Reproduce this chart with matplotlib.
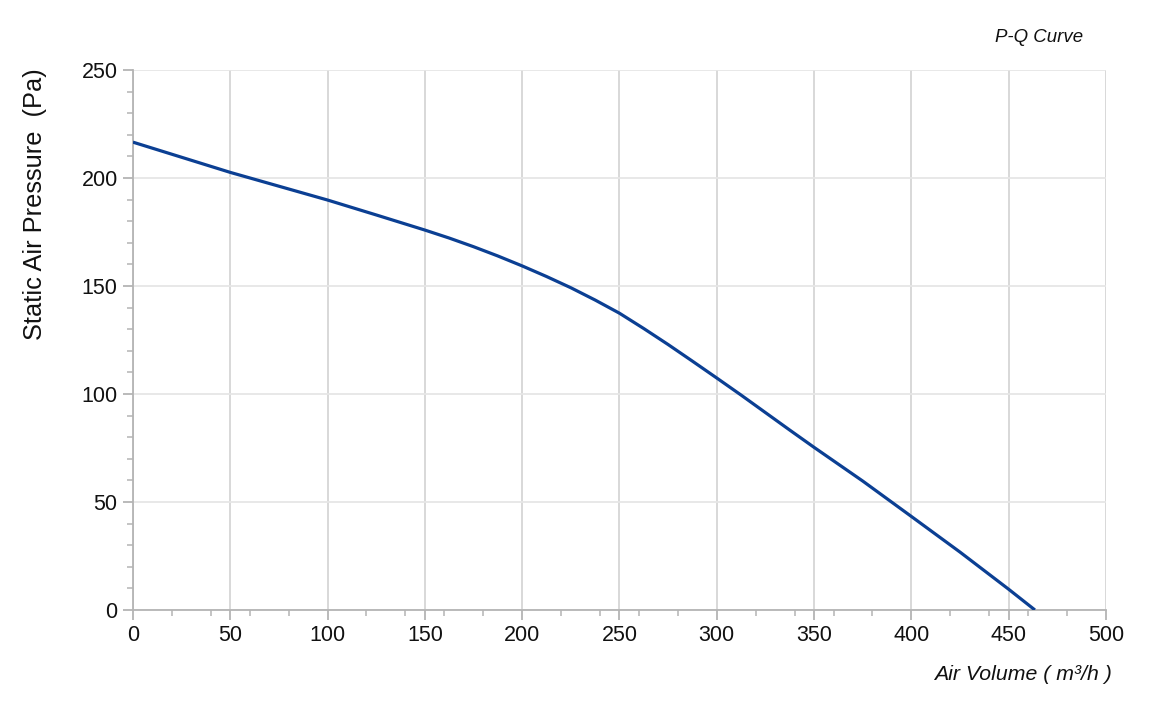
import numpy as np
import matplotlib
matplotlib.use("Agg")
import matplotlib.pyplot as plt
from matplotlib.ticker import MultipleLocator

# P-Q curve
air_volume = [0, 25, 50, 75, 100, 125, 150, 162.5, 175, 187.5, 200, 212.5,
              225, 237.5, 250, 262.5, 275, 287.5, 300, 312.5, 325, 337.5,
              350, 375, 400, 425, 450, 463.5]
pressure = [216.6, 209.6, 202.6, 196.2, 189.8, 182.9, 175.9, 172.2, 168.2,
            163.9, 159.3, 154.4, 149.2, 143.5, 137.4, 130.3, 122.9, 115.2,
            107.4, 99.5, 91.4, 83.3, 75.3, 59.7, 43.3, 26.8, 9.6, 0.0]

x_ticks = [0, 50, 100, 150, 200, 250, 300, 350, 400, 450, 500]
y_ticks = [0, 50, 100, 150, 200, 250]

plt.rcParams['font.family'] = ['Liberation Sans', 'DejaVu Sans']

fig = plt.figure(figsize=(11.56, 7.05), dpi=100)
ax = fig.add_axes([0.115, 0.1348, 0.8417, 0.7659])

ax.plot(air_volume, pressure, color='#0b3f93', lw=2.3, solid_capstyle='butt',
        solid_joinstyle='round', zorder=3)

ax.set_xlim(0, 500)
ax.set_ylim(0, 250)
ax.set_xticks(x_ticks)
ax.set_yticks(y_ticks)
ax.xaxis.set_minor_locator(MultipleLocator(20))
ax.yaxis.set_minor_locator(MultipleLocator(10))

ax.grid(True, axis='x', which='major', color='#d6d6d6', lw=1.3)
ax.grid(True, axis='y', which='major', color='#e6e6e6', lw=1.3)

for s in ['top', 'right']:
    ax.spines[s].set_visible(False)
for s in ['left', 'bottom']:
    ax.spines[s].set_color('#b4b4b4')
    ax.spines[s].set_linewidth(1.3)

ax.tick_params(which='major', length=7, width=1.3, color='#b4b4b4',
               labelsize=15.5, labelcolor='#111111', pad=4)
ax.tick_params(which='minor', length=4, width=1.1, color='#b4b4b4')

fig.text(35 / 1156, 1 - 204 / 705, 'Static Air Pressure  (Pa)', rotation=90,
         ha='center', va='center', fontsize=18.3, color='#111111')
fig.text(1112 / 1156, 1 - 675 / 705, 'Air Volume ( m\u00b3/h )', ha='right',
         va='center', fontsize=15.3, style='italic', color='#111111')
fig.text(1039 / 1156, 1 - 37 / 705, 'P-Q Curve', ha='center', va='center',
         fontsize=13.4, style='italic', color='#111111')

fig.savefig('out.png', dpi=100)
